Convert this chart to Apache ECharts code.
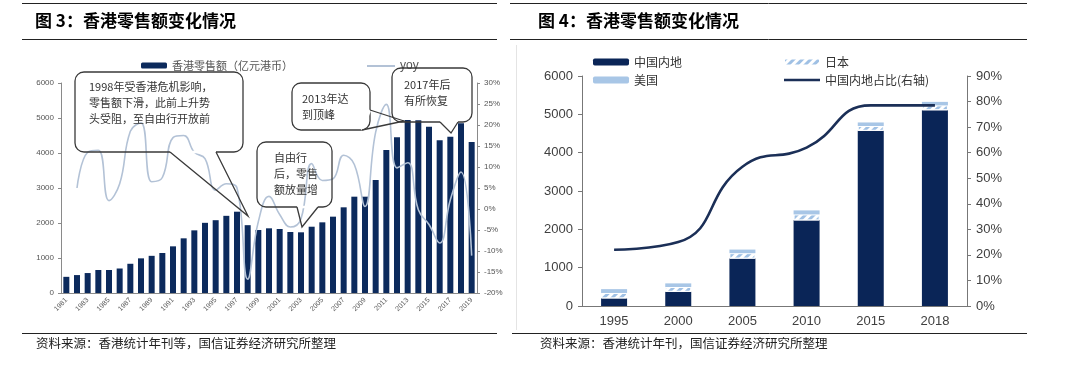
<!DOCTYPE html>
<html>
<head>
<meta charset="utf-8">
<script src="https://cdn.jsdelivr.net/npm/echarts@6/dist/echarts.min.js"></script>
<style>
  html, body { margin: 0; padding: 0; background: #fff; }
  #chart { width: 1067px; height: 376px; }
</style>
</head>
<body>
<div id="chart"></div>
<script>
// figure 3: retail sales (100m HKD) and yoy (%)
var years = ['1981','1982','1983','1984','1985','1986','1987','1988','1989','1990',
  '1991','1992','1993','1994','1995','1996','1997','1998','1999','2000',
  '2001','2002','2003','2004','2005','2006','2007','2008','2009','2010',
  '2011','2012','2013','2014','2015','2016','2017','2018','2019'];
var retail = [462, 512, 570, 658, 658, 700, 835, 990, 1062, 1143,
  1333, 1562, 1790, 2005, 2080, 2205, 2323, 1938, 1800, 1848,
  1829, 1743, 1734, 1894, 2019, 2181, 2448, 2752, 2752, 3229,
  4086, 4448, 4943, 4933, 4750, 4366, 4463, 4851, 4313];
var yoy = [null, 5, 13.5, 14, 2, 6, 18.5, 20.5, 6.5, 7.5,
  17, 17.5, 13.5, 12, 4.5, 6, 5, -16.7, -3, 3,
  -1.3, -4.3, -2.3, 10.8, 6.8, 7.2, 12.8, 10.6, 0.6, 18.3,
  24.9, 9.8, 11, -0.2, -3.7, -8.1, 2.2, 8.8, -11.1];

// figure 4: visitor spending by origin and mainland share
var years2 = ['1995', '2000', '2005', '2010', '2015', '2018'];
var mainland = [200, 371, 1238, 2234, 4571, 5108];
var japan = [140, 125, 140, 155, 125, 125];
var usa = [100, 94, 94, 105, 92, 92];
var mainlandShare = [22, 25, 54.5, 62, 78.5, 78.5];

var cjk = '"Noto Sans CJK SC", sans-serif';
var navy = '#0c2a5c';

function plain(v) { return String(v); }

function callout(box, tail, text, tx, ty) {
  return [
    { type: 'rect', z: 50, shape: { x: box[0], y: box[1], width: box[2], height: box[3], r: 9 },
      style: { fill: 'rgba(255,255,255,0)', stroke: '#3a3a3a', lineWidth: 1.3 } },
    { type: 'line', z: 51, shape: { x1: tail[0][0], y1: tail[0][1], x2: tail[1][0], y2: tail[1][1] },
      style: { stroke: '#ffffff', lineWidth: 2.5 } },
    { type: 'polyline', z: 52, shape: { points: [tail[0], tail[2], tail[1]] },
      style: { fill: null, stroke: '#3a3a3a', lineWidth: 1.3 } },
    { type: 'text', z: 53, x: tx, y: ty,
      style: { text: text, font: '11px ' + cjk, fill: '#333', lineHeight: 16 } }
  ];
}

var graphics = [
  { type: 'line', shape: { x1: 22, y1: 3.5, x2: 497, y2: 3.5 }, style: { stroke: '#222', lineWidth: 1 } },
  { type: 'line', shape: { x1: 22, y1: 39.5, x2: 497, y2: 39.5 }, style: { stroke: '#222', lineWidth: 1 } },
  { type: 'line', shape: { x1: 510, y1: 3.5, x2: 1027, y2: 3.5 }, style: { stroke: '#222', lineWidth: 1 } },
  { type: 'line', shape: { x1: 510, y1: 39.5, x2: 1027, y2: 39.5 }, style: { stroke: '#222', lineWidth: 1 } },
  { type: 'line', shape: { x1: 22, y1: 333.5, x2: 497, y2: 333.5 }, style: { stroke: '#222', lineWidth: 1 } },
  { type: 'line', shape: { x1: 512, y1: 333.5, x2: 1027, y2: 333.5 }, style: { stroke: '#222', lineWidth: 1 } },
  { type: 'line', shape: { x1: 516.5, y1: 45, x2: 516.5, y2: 330 }, style: { stroke: '#e4e4e4', lineWidth: 1 } },
  { type: 'text', x: 35, y: 12, style: { text: '图 3：香港零售额变化情况', font: 'bold 17px ' + cjk, fill: '#000' } },
  { type: 'text', x: 538, y: 12, style: { text: '图 4：香港零售额变化情况', font: 'bold 17px ' + cjk, fill: '#000' } },
  { type: 'text', x: 36, y: 337, style: { text: '资料来源：香港统计年刊等，国信证券经济研究所整理', font: '12.5px ' + cjk, fill: '#222' } },
  { type: 'text', x: 540, y: 337, style: { text: '资料来源：香港统计年刊，国信证券经济研究所整理', font: '12.5px ' + cjk, fill: '#222' } }
];
graphics = graphics
  .concat(callout([75, 72, 168, 80], [[170, 152], [216, 152], [248, 216]],
    '1998年受香港危机影响，\n零售额下滑，此前上升势\n头受阻，至自由行开放前', 89, 79))
  .concat(callout([257, 142, 75, 65], [[297, 207], [318, 207], [302, 227]],
    '自由行\n后，零售\n额放量增', 274, 150))
  .concat(callout([292, 83, 78, 47], [[370, 110], [362, 130], [404, 121]],
    '2013年达\n到顶峰', 302, 91))
  .concat(callout([392, 68, 80, 54], [[440, 122], [458, 122], [451, 133]],
    '2017年后\n有所恢复', 404, 77));

var myChart = echarts.init(document.getElementById('chart'));
var option = {
  animation: false,
  textStyle: { fontFamily: 'Arial, "Liberation Sans", sans-serif' },
  legend: [
    { left: 136, top: 55, itemWidth: 26, itemHeight: 6, data: ['香港零售额（亿元港币）'],
      textStyle: { fontSize: 11, color: '#555', fontFamily: cjk } },
    { left: 362, top: 55, itemWidth: 28, itemHeight: 2, data: [{ name: 'yoy', icon: 'rect' }],
      textStyle: { fontSize: 12, color: '#555' } },
    { left: 588, top: 51, orient: 'vertical', itemGap: 6, itemWidth: 36, itemHeight: 7,
      data: ['中国内地', '美国'], textStyle: { fontSize: 12, color: '#333', fontFamily: cjk } },
    { left: 778, top: 51, orient: 'vertical', itemGap: 6, itemWidth: 36, itemHeight: 7,
      data: ['日本', { name: '中国内地占比(右轴)', icon: 'path://M0,3 L36,3 L36,5.5 L0,5.5 Z' }],
      textStyle: { fontSize: 12, color: '#333', fontFamily: cjk } }
  ],
  grid: [
    { left: 61, top: 83, width: 416, height: 210 },
    { left: 582, top: 76, width: 385, height: 230 }
  ],
  xAxis: [
    { type: 'category', gridIndex: 0, data: years,
      axisLine: { lineStyle: { color: '#8a8a8a' } },
      axisTick: { lineStyle: { color: '#d0a070' }, length: 3 },
      axisLabel: { interval: 1, rotate: 45, fontSize: 7, color: '#555', margin: 6 } },
    { type: 'category', gridIndex: 1, data: years2,
      axisLine: { lineStyle: { color: '#777' } },
      axisTick: { lineStyle: { color: '#777' }, length: 4 },
      axisLabel: { fontSize: 13, color: '#404040', margin: 9 } }
  ],
  yAxis: [
    { type: 'value', gridIndex: 0, min: 0, max: 6000, interval: 1000,
      axisLine: { show: true, lineStyle: { color: '#8a8a8a' } },
      axisTick: { show: true, length: 3 }, splitLine: { show: false },
      axisLabel: { fontSize: 8, color: '#555', margin: 7, formatter: plain } },
    { type: 'value', gridIndex: 0, position: 'right', min: -20, max: 30, interval: 5,
      axisLine: { show: true, lineStyle: { color: '#8a8a8a' } },
      axisTick: { show: true, length: 3 }, splitLine: { show: false },
      axisLabel: { fontSize: 8, color: '#555', margin: 7, formatter: '{value}%' } },
    { type: 'value', gridIndex: 1, min: 0, max: 6000, interval: 1000,
      axisLine: { show: true, lineStyle: { color: '#777' } },
      axisTick: { show: true, length: 4 }, splitLine: { show: false },
      axisLabel: { fontSize: 13, color: '#404040', margin: 9, formatter: plain } },
    { type: 'value', gridIndex: 1, position: 'right', min: 0, max: 90, interval: 10,
      axisLine: { show: true, lineStyle: { color: '#777' } },
      axisTick: { show: true, length: 4 }, splitLine: { show: false },
      axisLabel: { fontSize: 13, color: '#404040', margin: 9, formatter: '{value}%' } }
  ],
  series: [
    { name: '香港零售额（亿元港币）', type: 'bar', xAxisIndex: 0, yAxisIndex: 0,
      data: retail, barWidth: 6, itemStyle: { color: navy } },
    { name: 'yoy', type: 'line', xAxisIndex: 0, yAxisIndex: 1, data: yoy,
      smooth: 0.45, symbol: 'none', lineStyle: { color: '#b3c2d6', width: 1.6 },
      itemStyle: { color: '#b3c2d6' } },
    { name: '中国内地', type: 'bar', xAxisIndex: 1, yAxisIndex: 2, stack: 'v',
      data: mainland, barWidth: 26, itemStyle: { color: '#0a2557' } },
    { name: '日本', type: 'bar', xAxisIndex: 1, yAxisIndex: 2, stack: 'v', data: japan,
      itemStyle: { color: '#ffffff', borderColor: '#ffffff', borderWidth: 1,
        decal: { symbol: 'rect', color: '#9fc0e4', dashArrayX: [1, 0], dashArrayY: [3, 3],
          rotation: -Math.PI / 4, symbolSize: 1 } } },
    { name: '美国', type: 'bar', xAxisIndex: 1, yAxisIndex: 2, stack: 'v', data: usa,
      itemStyle: { color: '#a8c6e6' } },
    { name: '中国内地占比(右轴)', type: 'line', xAxisIndex: 1, yAxisIndex: 3,
      data: mainlandShare, smooth: 0.5, symbol: 'none', z: 5,
      lineStyle: { color: '#1b2f57', width: 2.6 }, itemStyle: { color: '#1b2f57' } }
  ],
  graphic: graphics
};
myChart.setOption(option);
</script>
</body>
</html>
